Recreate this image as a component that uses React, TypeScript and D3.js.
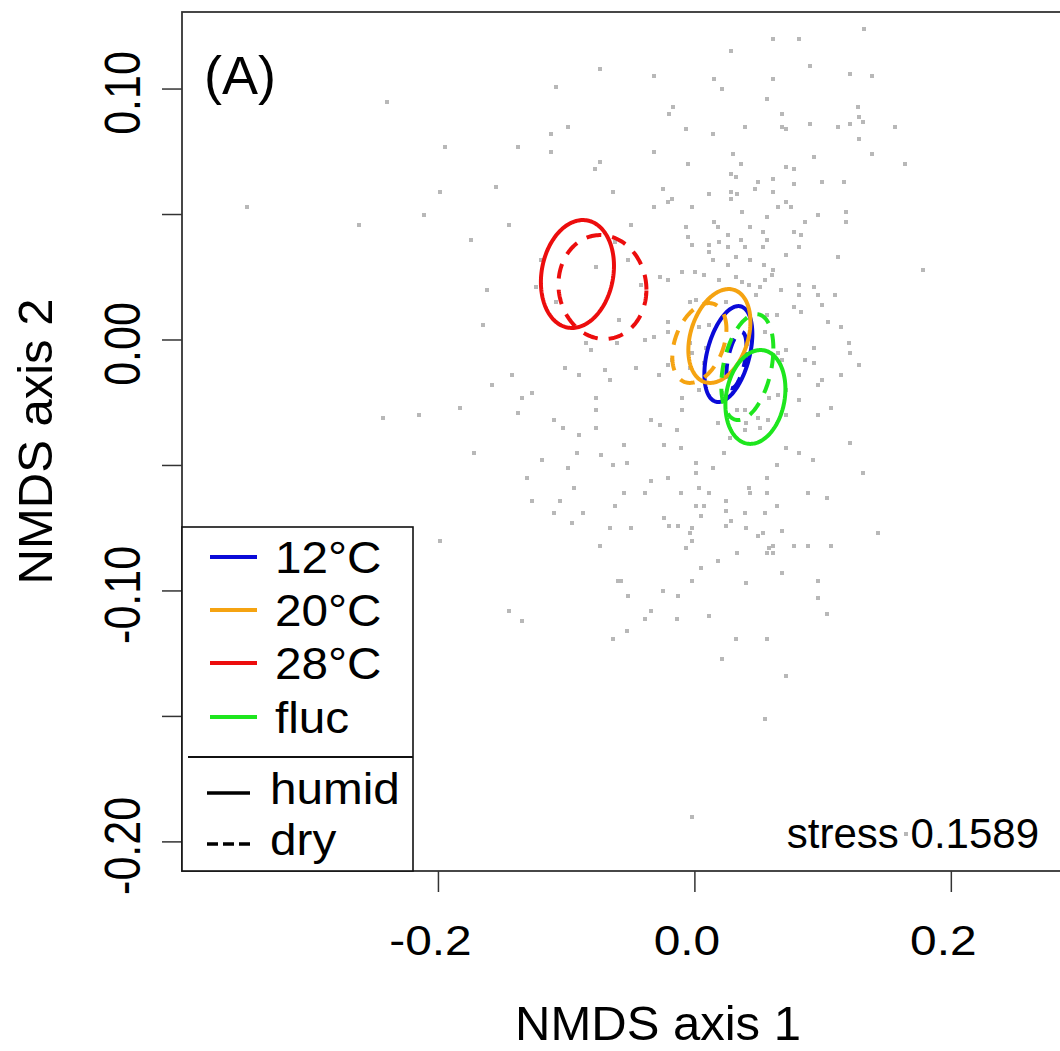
import React, { useRef, useEffect } from 'react'
import * as d3 from 'd3'

// site scores (NMDS axis 1, NMDS axis 2)
const sitePoints: [number, number][] = [
  [-0.074, 0.108], [-0.108, 0.101], [-0.240, 0.095], [-0.099, 0.085], [-0.195, 0.077], [-0.138, 0.077],
  [-0.112, 0.082], [-0.112, 0.075], [-0.074, 0.071], [-0.078, 0.068], [-0.064, 0.059], [-0.349, 0.053],
  [-0.199, 0.059], [-0.155, 0.061], [-0.262, 0.046], [-0.211, 0.050], [-0.145, 0.046], [-0.175, 0.040],
  [-0.120, 0.032], [-0.077, 0.029], [-0.124, 0.021], [-0.162, 0.020], [-0.062, 0.039],
  [0.132, 0.124], [0.061, 0.120], [0.081, 0.120], [0.028, 0.115], [0.090, 0.109], [-0.032, 0.105],
  [0.015, 0.104], [0.061, 0.104], [0.121, 0.106], [0.138, 0.105], [0.021, 0.100], [0.056, 0.096],
  [-0.017, 0.093], [-0.020, 0.090], [0.068, 0.090], [0.127, 0.093], [0.128, 0.089], [-0.007, 0.084],
  [0.039, 0.085], [0.068, 0.085], [0.071, 0.084], [0.090, 0.086], [0.112, 0.085], [0.121, 0.086],
  [0.131, 0.087], [0.156, 0.085], [0.014, 0.082], [0.128, 0.080], [-0.032, 0.075], [0.030, 0.074],
  [0.036, 0.070], [-0.005, 0.070], [0.093, 0.073], [0.138, 0.074], [0.164, 0.070], [0.071, 0.069],
  [0.077, 0.068], [0.028, 0.066], [0.032, 0.065], [0.049, 0.063], [0.061, 0.064], [0.077, 0.062],
  [0.099, 0.063], [0.116, 0.063], [-0.025, 0.060], [0.047, 0.060], [0.011, 0.058], [0.028, 0.059],
  [0.033, 0.058], [0.061, 0.059], [-0.018, 0.056], [-0.021, 0.055], [0.028, 0.056], [-0.032, 0.053],
  [-0.002, 0.053], [0.037, 0.051], [0.071, 0.055], [0.065, 0.053], [0.075, 0.053], [0.118, 0.051],
  [0.056, 0.049], [0.096, 0.050], [-0.050, 0.046], [-0.007, 0.045], [0.015, 0.047], [0.018, 0.045],
  [0.043, 0.045], [0.086, 0.047], [0.118, 0.047], [0.053, 0.043], [0.077, 0.043], [0.083, 0.042],
  [-0.005, 0.041], [-0.002, 0.038], [0.026, 0.042], [0.036, 0.040], [0.056, 0.040], [0.011, 0.038],
  [0.019, 0.039], [0.011, 0.035], [0.026, 0.037], [0.039, 0.037], [0.053, 0.037], [0.081, 0.037],
  [-0.052, 0.032], [0.014, 0.032], [0.032, 0.033], [0.043, 0.032], [0.071, 0.034], [0.112, 0.033],
  [0.026, 0.030], [0.054, 0.030], [0.061, 0.028], [0.178, 0.028], [-0.027, 0.025], [-0.021, 0.024],
  [-0.010, 0.027], [0.000, 0.027], [0.007, 0.026], [0.019, 0.024], [0.032, 0.025], [0.060, 0.026],
  [-0.042, 0.022], [0.037, 0.023], [0.042, 0.022], [0.055, 0.024], [0.051, 0.021], [0.081, 0.022],
  [0.093, 0.021], [0.048, 0.018], [0.067, 0.020], [0.096, 0.018], [0.109, 0.018], [0.081, 0.018],
  [0.001, 0.016],
  [-0.165, 0.006], [-0.085, -0.001], [-0.081, -0.004], [-0.061, -0.001], [-0.101, -0.011], [-0.090, -0.014],
  [-0.143, -0.014], [-0.070, -0.012], [-0.066, -0.016], [-0.158, -0.018], [-0.135, -0.023], [-0.127, -0.021],
  [-0.077, -0.023], [-0.077, -0.028], [-0.183, -0.027], [-0.243, -0.031], [-0.215, -0.030], [-0.138, -0.029],
  [-0.110, -0.032], [-0.103, -0.035], [-0.077, -0.035], [-0.090, -0.038], [-0.172, -0.045], [-0.092, -0.045],
  [-0.073, -0.046], [-0.119, -0.048], [-0.099, -0.051], [-0.064, -0.050], [-0.131, -0.055], [-0.094, -0.059],
  [-0.127, -0.064], [-0.105, -0.064], [-0.062, -0.066], [-0.110, -0.069], [-0.087, -0.069], [-0.096, -0.073],
  [-0.066, -0.075], [-0.199, -0.080], [-0.074, -0.082], [-0.060, -0.096], [-0.108, 0.015], [-0.059, 0.008],
  [-0.004, 0.015], [0.024, 0.015], [0.077, 0.013], [0.083, 0.011], [0.099, 0.014], [-0.021, 0.007],
  [-0.021, 0.003], [0.003, 0.005], [0.011, 0.006], [0.104, 0.007], [0.114, 0.005], [0.055, 0.003],
  [0.064, 0.010], [0.056, 0.010], [-0.039, 0.000], [-0.032, 0.001], [-0.004, -0.001], [0.120, -0.001],
  [0.071, -0.004], [0.093, -0.003], [0.121, -0.005], [0.065, -0.005], [0.068, -0.008], [0.086, -0.008],
  [0.093, -0.009], [0.128, -0.010], [-0.046, -0.011], [-0.018, -0.008], [-0.021, -0.010], [-0.028, -0.014],
  [-0.004, -0.011], [0.081, -0.014], [0.099, -0.016], [0.114, -0.014], [0.096, -0.018], [0.003, -0.020],
  [0.071, -0.020], [-0.010, -0.023], [0.065, -0.022], [0.081, -0.024], [-0.010, -0.028], [0.106, -0.027],
  [0.033, -0.028], [0.039, -0.028], [0.071, -0.030], [0.096, -0.030], [-0.034, -0.032], [-0.027, -0.034],
  [0.018, -0.033], [0.040, -0.033], [0.049, -0.031], [0.051, -0.035], [0.057, -0.032], [-0.014, -0.036],
  [-0.055, -0.042], [-0.024, -0.042], [-0.011, -0.043], [0.027, -0.039], [0.071, -0.043], [0.081, -0.045],
  [0.121, -0.041], [0.023, -0.045], [-0.053, -0.049], [0.001, -0.049], [0.064, -0.050], [0.092, -0.048],
  [0.131, -0.053], [0.014, -0.051], [-0.034, -0.056], [-0.021, -0.055], [0.001, -0.053], [0.056, -0.055],
  [-0.055, -0.061], [-0.039, -0.061], [-0.011, -0.061], [0.003, -0.059], [0.011, -0.061], [0.042, -0.059],
  [0.043, -0.061], [0.056, -0.061], [0.088, -0.061], [0.103, -0.063], [0.001, -0.066], [0.007, -0.066],
  [0.024, -0.064], [0.064, -0.066], [0.024, -0.068], [0.039, -0.069], [0.055, -0.069], [-0.024, -0.071],
  [0.005, -0.070], [0.028, -0.072], [-0.020, -0.074], [-0.013, -0.074], [0.024, -0.074], [-0.050, -0.075],
  [-0.002, -0.075], [-0.004, -0.077], [0.040, -0.075], [0.068, -0.076], [0.049, -0.078], [0.053, -0.077],
  [0.143, -0.077], [-0.002, -0.080], [0.061, -0.082], [0.077, -0.082], [0.088, -0.082], [0.106, -0.082],
  [-0.007, -0.083], [0.033, -0.085], [0.056, -0.085], [0.061, -0.085], [0.058, -0.083], [0.018, -0.088],
  [0.005, -0.091], [0.068, -0.093], [-0.002, -0.096], [0.040, -0.097], [0.096, -0.096], [-0.058, -0.096],
  [-0.025, -0.100], [-0.013, -0.102], [-0.052, -0.102], [0.096, -0.103],
  [0.009, -0.003], [0.007, -0.009], [-0.002, -0.005], [0.021, -0.021], [0.058, -0.023], [0.039, -0.036],
  [-0.145, -0.108], [-0.135, -0.112], [-0.064, -0.119],
  [-0.034, -0.108], [-0.039, -0.111], [-0.014, -0.111], [0.011, -0.110], [-0.053, -0.116], [0.032, -0.119],
  [0.056, -0.119], [0.021, -0.127], [0.071, -0.134], [0.055, -0.151], [0.103, -0.109], [-0.002, -0.190],
  [0.165, -0.197],
]

const temps = ['12°C', '20°C', '28°C', 'fluc']
const tempColors = ['#0a0ad8', '#f5a311', '#ec0d0d', '#1ee61e']
const humidity = ['humid', 'dry']

// ordination ellipses per temperature: centre, spread on each axis, correlation
const humidEllipses = [
  { cx: 0.0261, cy: -0.0056, sx: 0.0187, sy: 0.0191, r: 0.42 },
  { cx: 0.0191, cy: 0.0016, sx: 0.0242, sy: 0.0187, r: 0.3 },
  { cx: -0.0916, cy: 0.0263, sx: 0.0285, sy: 0.0215, r: 0.15 },
  { cx: 0.0472, cy: -0.0227, sx: 0.0234, sy: 0.0187, r: 0.17 },
]
const dryEllipses = [
  { cx: 0.0324, cy: -0.008, sx: 0.0078, sy: 0.0112, r: 0.5 },
  { cx: 0.0035, cy: -0.0012, sx: 0.0211, sy: 0.0159, r: 0.35 },
  { cx: -0.0721, cy: 0.0211, sx: 0.0343, sy: 0.0207, r: -0.05 },
  { cx: 0.0409, cy: -0.0108, sx: 0.0203, sy: 0.0211, r: 0.35 },
]

const xTicks = [-0.2, 0.0, 0.2]
const yTicks = [-0.2, -0.15, -0.1, -0.05, 0.0, 0.05, 0.1]
const yLabelTicks = [-0.2, -0.1, 0.0, 0.1]
const stressValue = 0.1589

const FONT = 'Liberation Sans, Arial, sans-serif'

const App = () => {
  const ref = useRef<SVGSVGElement>(null)

  useEffect(() => {
    document.body.style.margin = '0'
    const w = 1060
    const h = 1051
    const left = 182, right = 1127, top = 12, bottom = 871

    const svg = d3.select(ref.current)
      .attr('width', w)
      .attr('height', h)
      .style('background', 'white')
      .style('display', 'block')
    svg.selectAll('*').remove()

    const x = d3.scaleLinear().domain([-0.4, 0.337]).range([left, right])
    const y = d3.scaleLinear().domain([-0.2116, 0.1307]).range([bottom, top])

    // points
    svg.append('g')
      .attr('shape-rendering', 'crispEdges')
      .selectAll('rect')
      .data(sitePoints)
      .join('rect')
      .attr('x', d => Math.round(x(d[0])) - 2)
      .attr('y', d => Math.round(y(d[1])) - 2)
      .attr('width', 4)
      .attr('height', 4)
      .attr('fill', '#b8b8b8')

    // ellipses
    const ellipse = (e: { cx: number, cy: number, sx: number, sy: number, r: number }) => {
      const k = Math.sqrt(1 - e.r * e.r)
      return d3.line<number>()
        .x(t => x(e.cx + e.sx * Math.cos(t)))
        .y(t => y(e.cy + e.sy * (e.r * Math.cos(t) + k * Math.sin(t))))
        .curve(d3.curveLinearClosed)(d3.range(0, 2 * Math.PI, Math.PI / 90))
    }
    const eg = svg.append('g').attr('fill', 'none').attr('stroke-width', 4)
    temps.forEach((t, i) => {
      eg.append('path')
        .attr('d', ellipse(dryEllipses[i]))
        .attr('stroke', tempColors[i])
        .attr('stroke-dasharray', '15 11')
      eg.append('path')
        .attr('d', ellipse(humidEllipses[i]))
        .attr('stroke', tempColors[i])
    })

    // box
    svg.append('rect')
      .attr('x', left).attr('y', top)
      .attr('width', right - left).attr('height', bottom - top)
      .attr('fill', 'none').attr('stroke', '#333').attr('stroke-width', 1.8)

    // x axis
    const xg = svg.append('g')
    xg.selectAll('line').data(xTicks).join('line')
      .attr('x1', d => x(d)).attr('x2', d => x(d))
      .attr('y1', bottom).attr('y2', bottom + 21)
      .attr('stroke', '#333').attr('stroke-width', 1.5)
    xg.selectAll('text').data(xTicks).join('text')
      .attr('transform', d => `translate(${x(d) - 8},955) scale(1.14,1)`)
      .attr('text-anchor', 'middle')
      .style('font-family', FONT).style('font-size', '42px')
      .text(d => d3.format('.1f')(d).replace('−', '-'))

    // y axis
    const yg = svg.append('g')
    yg.selectAll('line').data(yTicks).join('line')
      .attr('x1', left - 20).attr('x2', left)
      .attr('y1', d => y(d)).attr('y2', d => y(d))
      .attr('stroke', '#333').attr('stroke-width', 1.5)
    yg.selectAll('text').data(yLabelTicks).join('text')
      .attr('transform', d => `translate(140,${y(d) + 4}) scale(1.18,1) rotate(-90)`)
      .attr('text-anchor', 'middle')
      .style('font-family', FONT).style('font-size', '43px')
      .text(d => d3.format('.2f')(d).replace('−', '-'))

    // axis titles
    svg.append('text')
      .attr('x', 658).attr('y', 1040)
      .attr('text-anchor', 'middle')
      .style('font-family', FONT).style('font-size', '49px')
      .text('NMDS axis 1')
    svg.append('text')
      .attr('transform', `translate(52,${(top + bottom) / 2}) rotate(-90)`)
      .attr('text-anchor', 'middle')
      .style('font-family', FONT).style('font-size', '49px')
      .text('NMDS axis 2')

    // panel letter and stress
    svg.append('text')
      .attr('x', 204).attr('y', 94)
      .style('font-family', FONT).style('font-size', '54px')
      .text('(A)')
    svg.append('text')
      .attr('x', 1039).attr('y', 848)
      .attr('text-anchor', 'end')
      .style('font-family', FONT).style('font-size', '42px')
      .text(`stress ${stressValue}`)

    // legend
    const lg = svg.append('g')
    lg.append('rect')
      .attr('x', left).attr('y', 527)
      .attr('width', 413 - left).attr('height', bottom - 527)
      .attr('fill', 'white').attr('stroke', '#111').attr('stroke-width', 1.6)
    lg.append('line')
      .attr('x1', 188).attr('x2', 413).attr('y1', 757).attr('y2', 757)
      .attr('stroke', '#111').attr('stroke-width', 2.2)
    const tempRows = [557, 610, 663, 717]
    temps.forEach((t, i) => {
      lg.append('line')
        .attr('x1', 210).attr('x2', 257)
        .attr('y1', tempRows[i]).attr('y2', tempRows[i])
        .attr('stroke', tempColors[i]).attr('stroke-width', 4)
      lg.append('text')
        .attr('transform', `translate(275,${tempRows[i] + 16}) scale(1.06,1)`)
        .style('font-family', FONT).style('font-size', '45px')
        .text(t)
    })
    const humRows = [793, 844]
    humidity.forEach((t, i) => {
      lg.append('line')
        .attr('x1', 207).attr('x2', 250)
        .attr('y1', humRows[i]).attr('y2', humRows[i])
        .attr('stroke', '#000').attr('stroke-width', 3.5)
        .attr('stroke-dasharray', i === 1 ? '11 5' : null)
      lg.append('text')
        .attr('transform', `translate(270,${humRows[i] + 11}) scale(1.06,1)`)
        .style('font-family', FONT).style('font-size', '45px')
        .text(t)
    })
  }, [])

  return (
    <div>
      <svg ref={ref}></svg>
    </div>
  )
}

export default App
